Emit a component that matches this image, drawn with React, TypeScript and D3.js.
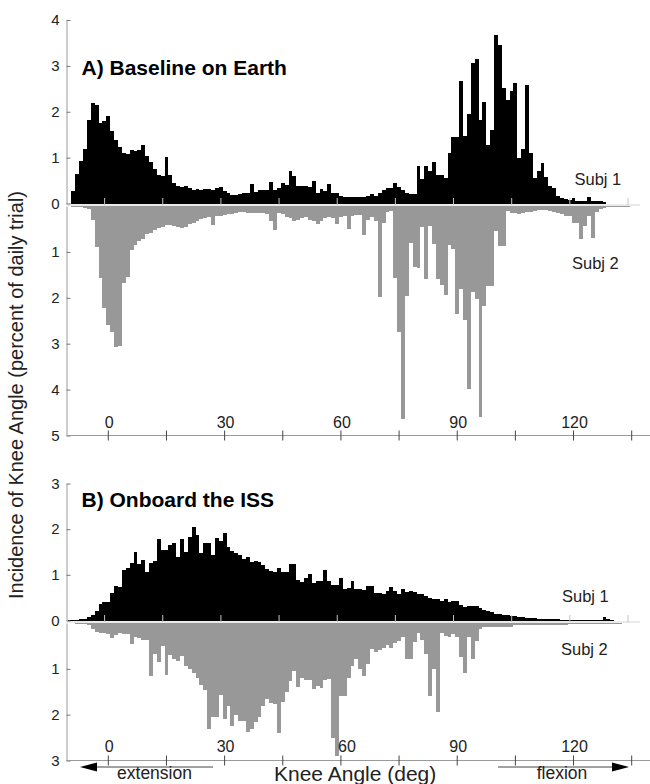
import { useEffect, useRef } from "react";
import * as d3 from "d3";

const FONT = "'Liberation Sans', Arial, Helvetica, sans-serif";

// knee angle histograms: 1 deg bins centred on whole degrees, percent of daily trial
const earthSubj1Start = -9;
const earthSubj1 = [
  0.27, 0.65, 0.92, 1.19, 1.81, 2.2, 2.15, 1.75, 1.8, 1.9, 1.59, 1.39, 1.23, 1.1, 1.07, 1.16,
  1.14, 1.16, 1.28, 1.03, 0.9, 0.75, 0.63, 0.59, 1.01, 0.63, 0.45, 0.39, 0.36, 0.38, 0.34, 0.3,
  0.32, 0.3, 0.32, 0.31, 0.29, 0.33, 0.35, 0.28, 0.22, 0.19, 0.18, 0.2, 0.23, 0.23, 0.43,
  0.25, 0.29, 0.3, 0.29, 0.47, 0.29, 0.34, 0.44, 0.4, 0.71, 0.59, 0.39, 0.39, 0.38, 0.35, 0.49,
  0.23, 0.32, 0.27, 0.43, 0.23, 0.22, 0.17, 0.14, 0.14, 0.14, 0.14, 0.14, 0.14, 0.16, 0.2, 0.17,
  0.23, 0.3, 0.34, 0.34, 0.44, 0.36, 0.29, 0.22, 0.2, 0.2, 0.81, 0.54, 0.81, 0.7, 0.9, 0.63,
  0.63, 0.55, 1.1, 1.46, 1.46, 2.66, 1.47, 1.96, 3.07, 3.16, 1.83, 2.22, 1.28, 1.61, 3.67, 3.46,
  2.51, 2.26, 2.45, 2.62, 0.99, 1.19, 2.59, 1.09, 0.56, 0.7, 0.88, 0.57, 0.38, 0.34, 0.16, 0.11,
  0.09, 0.07, 0.12, 0.06, 0.06, 0.06, 0.14, 0.05, 0.05, 0.05, 0.04,
];

const earthSubj2Start = -10;
const earthSubj2 = [
  0.01, 0.02, 0.02, 0.03, 0.05, 0.07, 0.3, 0.89, 1.57, 2.23, 2.6, 2.74, 3.08, 3.06, 1.67, 1.54,
  0.96, 0.85, 0.76, 0.71, 0.6, 0.58, 0.52, 0.49, 0.45, 0.42, 0.42, 0.43, 0.46, 0.48, 0.45, 0.4,
  0.36, 0.33, 0.29, 0.27, 0.25, 0.42, 0.22, 0.22, 0.2, 0.18, 0.17, 0.16, 0.14, 0.14, 0.15,
  0.16, 0.16, 0.16, 0.16, 0.17, 0.33, 0.53, 0.15, 0.17, 0.24, 0.26, 0.33, 0.3, 0.27, 0.25, 0.3,
  0.33, 0.4, 0.33, 0.27, 0.25, 0.27, 0.4, 0.23, 0.22, 0.51, 0.22, 0.2, 0.2, 0.64, 0.3, 0.25,
  0.33, 1.99, 0.36, 0.14, 0.1, 1.56, 2.74, 4.65, 1.96, 0.8, 1.33, 1.36, 0.45, 1.59, 0.43, 0.83,
  1.59, 1.72, 1.94, 0.85, 0.94, 2.36, 1.8, 2.48, 3.99, 1.88, 2.03, 4.6, 2.17, 1.74, 1.74, 0.54,
  0.87, 0.87, 0.11, 0.15, 0.16, 0.17, 0.16, 0.14, 0.12, 0.1, 0.09, 0.09, 0.09, 0.1, 0.13, 0.15,
  0.17, 0.22, 0.22, 0.36, 0.36, 0.72, 0.43, 0.22, 0.69, 0.14, 0.07, 0.04, 0.03, 0.03, 0.02, 0.02,
  0.02, 0.02, 0.01,
];

const issSubj1Start = -10;
const issSubj1 = [
  0.02, 0.02, 0.02, 0.03, 0.04, 0.07, 0.13, 0.2, 0.36, 0.4, 0.41,
  0.6, 0.75, 0.73, 1.11, 1.14, 1.25, 1.49, 1.23, 1.33, 1.06, 1.25, 1.31, 1.78, 1.54, 1.54, 1.65,
  1.7, 1.38, 1.78, 1.51, 1.83, 2.05, 1.87, 1.47, 1.69, 1.7, 1.43, 1.8, 1.74, 1.92, 1.62, 1.52,
  1.47, 1.43, 1.34, 1.4, 1.29,
  1.3, 1.28, 1.22, 1.13, 1.09, 1.07, 1.14, 1.06, 1.06, 1.24, 1.24, 0.89, 0.84, 0.93, 1.01, 0.82,
  0.86, 0.86, 1.11, 0.86, 0.77, 0.77, 0.93, 0.7, 0.71, 0.86, 0.69, 0.69, 0.67, 0.75, 0.75, 0.6,
  0.6, 0.59, 0.65, 0.73, 0.64, 0.57, 0.7, 0.62, 0.64, 0.62, 0.57, 0.58, 0.53, 0.49, 0.48, 0.46,
  0.43, 0.46, 0.41,
  0.43, 0.43, 0.35, 0.29, 0.31, 0.31, 0.31, 0.28, 0.22, 0.2, 0.18, 0.15, 0.14, 0.13, 0.12, 0.09,
  0.09, 0.08, 0.08, 0.06, 0.06, 0.05, 0.04, 0.04, 0.04, 0.03, 0.03, 0.03, 0.02, 0.02, 0.02, 0.02,
  0.02, 0.02, 0.02, 0.02, 0.02, 0.02, 0.02, 0.08, 0.03, 0.02,
];

const issSubj2Start = -10;
const issSubj2 = [
  0.01, 0.01, 0.02, 0.02, 0.02, 0.05, 0.14, 0.2, 0.21, 0.21, 0.25,
  0.32, 0.27, 0.21, 0.25, 0.25, 0.46, 0.3, 0.32, 0.37, 0.37,
  1.15, 0.68, 0.85, 0.5, 1.14, 0.7, 0.79, 0.83, 0.72, 0.93,
  1.0, 1.08, 1.19, 1.35, 1.46, 2.31, 2.06, 2.06, 1.57, 2.09,
  1.8, 2.24, 2.0, 2.13, 2.13, 2.38, 2.31, 2.17, 2.06, 1.8,
  1.66, 1.75, 1.77, 2.4, 1.73, 1.5, 1.26, 1.04, 1.39, 1.19,
  1.24, 1.24, 1.43, 1.37, 1.41, 1.24, 1.22, 2.51, 2.9, 1.59,
  1.59, 1.19, 0.93, 0.78, 1.0, 1.15, 0.9, 0.57, 0.63, 0.59,
  0.54, 0.48, 0.54, 0.43, 0.39, 0.3, 0.78, 0.78, 0.41, 0.22,
  0.37, 0.68, 1.6, 1.0, 1.95, 0.21, 0.28, 0.3, 0.25, 0.3,
  0.75, 1.09, 0.3, 0.78, 0.39, 0.14, 0.09, 0.09, 0.09, 0.08,
  0.08, 0.08, 0.08, 0.08, 0.05, 0.05, 0.05, 0.05, 0.05, 0.04,
  0.04, 0.04, 0.04, 0.04, 0.04, 0.04, 0.04, 0.04, 0.02, 0.02,
  0.02, 0.02, 0.02, 0.02, 0.02, 0.02, 0.02, 0.02, 0.02, 0.02,
  0.02, 0.02, 0.01, 0.01, 0.01, 0.01,
];

const angleTicks = [0, 15, 30, 45, 60, 75, 90, 105, 120, 135];
const angleLabels = [0, 30, 60, 90, 120];
const earthUpTicks = [0, 1, 2, 3, 4];
const earthDownTicks = [1, 2, 3, 4, 5];
const issUpTicks = [0, 1, 2, 3];
const issDownTicks = [1, 2, 3];

const WIDTH = 650;
const HEIGHT = 784;
const axisX = 66.5;
const GREY = "#989898";

const x = d3.scaleLinear().domain([0, 135]).range([108.3, 631.7]);

function drawPanel(svg, p) {
  const g = svg.append("g");
  const upMax = d3.max(p.upTicks);
  const downMax = d3.max(p.downTicks);
  const yUp = d3.scaleLinear().domain([0, upMax]).range([p.zero - 1.5, p.top]);
  const yDown = d3.scaleLinear().domain([0, downMax]).range([p.zero + 1, p.bottom]);

  const upBins = p.up.map((v, i) => ({ a: p.upStart + i, v }));
  const downBins = p.down.map((v, i) => ({ a: p.downStart + i, v }));

  // Subj 2 hangs below the zero line
  g.append("g")
    .attr("fill", GREY)
    .attr("shape-rendering", "crispEdges")
    .selectAll("rect")
    .data(downBins)
    .join("rect")
    .attr("x", (d) => x(d.a - 0.5))
    .attr("width", (d) => x(d.a + 0.5) - x(d.a - 0.5))
    .attr("y", yDown(0))
    .attr("height", (d) => yDown(d.v) - yDown(0));

  // Subj 1 stands on top
  g.append("g")
    .attr("fill", "#000")
    .attr("shape-rendering", "crispEdges")
    .selectAll("rect")
    .data(upBins)
    .join("rect")
    .attr("x", (d) => x(d.a - 0.5))
    .attr("width", (d) => x(d.a + 0.5) - x(d.a - 0.5))
    .attr("y", (d) => yUp(d.v))
    .attr("height", (d) => yUp(0) - yUp(d.v));

  // zero line with its own little ticks
  g.append("line")
    .attr("x1", axisX)
    .attr("x2", 640)
    .attr("y1", p.zero)
    .attr("y2", p.zero)
    .attr("stroke", "#d4d4d4")
    .attr("stroke-width", 1);
  g.append("g")
    .selectAll("line")
    .data(angleTicks)
    .join("line")
    .attr("x1", (d) => x(d) - 3.7)
    .attr("x2", (d) => x(d) - 3.7)
    .attr("y1", p.zero)
    .attr("y2", p.zero - 7)
    .attr("stroke", "#c4c4c4")
    .attr("stroke-width", 1);

  // vertical axes
  const styleAxis = (a) => {
    a.select(".domain").attr("stroke", "#9a9a9a");
    a.selectAll(".tick line").attr("stroke", "#777");
    a.selectAll(".tick text")
      .attr("fill", "#222")
      .attr("font-family", FONT)
      .attr("font-size", 15);
  };
  g.append("g")
    .attr("transform", `translate(${axisX},0)`)
    .call(d3.axisLeft(yUp).tickValues(p.upTicks).tickFormat(d3.format("d")).tickSizeInner(-4).tickSizeOuter(0).tickPadding(7))
    .call(styleAxis);
  g.append("g")
    .attr("transform", `translate(${axisX},0)`)
    .call(d3.axisLeft(yDown).tickValues(p.downTicks).tickFormat(d3.format("d")).tickSizeInner(-4).tickSizeOuter(0).tickPadding(7))
    .call(styleAxis);

  // bottom axis, labels sit inside the plot
  g.append("line")
    .attr("x1", axisX)
    .attr("x2", WIDTH)
    .attr("y1", p.bottom)
    .attr("y2", p.bottom)
    .attr("stroke", "#9a9a9a");
  g.append("g")
    .selectAll("line")
    .data(angleTicks)
    .join("line")
    .attr("x1", (d) => x(d))
    .attr("x2", (d) => x(d))
    .attr("y1", p.bottom - 5)
    .attr("y2", p.bottom + 5)
    .attr("stroke", "#444");
  g.append("g")
    .selectAll("text")
    .data(angleLabels)
    .join("text")
    .attr("x", (d) => x(d) + 1 + (p.labelShift[d] || 0))
    .attr("y", p.labelY)
    .attr("text-anchor", "middle")
    .attr("font-family", FONT)
    .attr("font-size", 16)
    .attr("fill", "#222")
    .text((d) => d);

  g.append("text")
    .attr("x", 81.5)
    .attr("y", p.titleY)
    .attr("font-family", FONT)
    .attr("font-size", 21)
    .attr("font-weight", "bold")
    .attr("fill", "#000")
    .text(p.title);

  [
    ["Subj 1", p.subj1],
    ["Subj 2", p.subj2],
  ].forEach(([label, pos]) => {
    g.append("text")
      .attr("x", pos[0])
      .attr("y", pos[1])
      .attr("font-family", FONT)
      .attr("font-size", 16.5)
      .attr("fill", "#222")
      .text(label);
  });
}

export default function App() {
  const ref = useRef(null);

  useEffect(() => {
    const svg = d3.select(ref.current);
    svg.selectAll("*").remove();
    svg.append("rect").attr("width", WIDTH).attr("height", HEIGHT).attr("fill", "#fff");

    drawPanel(svg, {
      title: "A) Baseline on Earth",
      titleY: 75,
      up: earthSubj1,
      upStart: earthSubj1Start,
      upTicks: earthUpTicks,
      down: earthSubj2,
      downStart: earthSubj2Start,
      downTicks: earthDownTicks,
      top: 20,
      zero: 205,
      bottom: 435.5,
      labelY: 428,
      labelShift: {},
      subj1: [574.5, 185],
      subj2: [572, 269],
    });

    drawPanel(svg, {
      title: "B) Onboard the ISS",
      titleY: 506.5,
      up: issSubj1,
      upStart: issSubj1Start,
      upTicks: issUpTicks,
      down: issSubj2,
      downStart: issSubj2Start,
      downTicks: issDownTicks,
      top: 483.5,
      zero: 622,
      bottom: 760.5,
      labelY: 751.5,
      labelShift: { 60: 5 },
      subj1: [562, 602],
      subj2: [561, 655],
    });

    svg.append("text")
      .attr("transform", "translate(23,395) rotate(-90)")
      .attr("text-anchor", "middle")
      .attr("font-family", FONT)
      .attr("font-size", 20)
      .attr("fill", "#222")
      .text("Incidence of Knee Angle (percent of daily trial)");

    svg.append("text")
      .attr("x", 274)
      .attr("y", 780.5)
      .attr("font-family", FONT)
      .attr("font-size", 21)
      .attr("fill", "#222")
      .text("Knee Angle (deg)");

    // direction arrows under the angle axis
    const arrows = [
      { from: 213, to: 80, label: "extension", lx: 154.5 },
      { from: 498, to: 629, label: "flexion", lx: 562 },
    ];
    arrows.forEach((a) => {
      const dir = Math.sign(a.to - a.from);
      const y = 767;
      svg.append("line")
        .attr("x1", a.from)
        .attr("x2", a.to - dir * 10)
        .attr("y1", y)
        .attr("y2", y)
        .attr("stroke", "#444")
        .attr("stroke-width", 1);
      svg.append("path")
        .attr("d", `M${a.to},${y} L${a.to - dir * 17},${y - 4.5} L${a.to - dir * 17},${y + 4.5} Z`)
        .attr("fill", "#000");
      svg.append("text")
        .attr("x", a.lx)
        .attr("y", 779)
        .attr("text-anchor", "middle")
        .attr("font-family", FONT)
        .attr("font-size", 17.5)
        .attr("fill", "#222")
        .text(a.label);
    });
  }, []);

  return (
    <svg
      ref={ref}
      width={WIDTH}
      height={HEIGHT}
      style={{ position: "absolute", left: 0, top: 0, display: "block" }}
    />
  );
}
